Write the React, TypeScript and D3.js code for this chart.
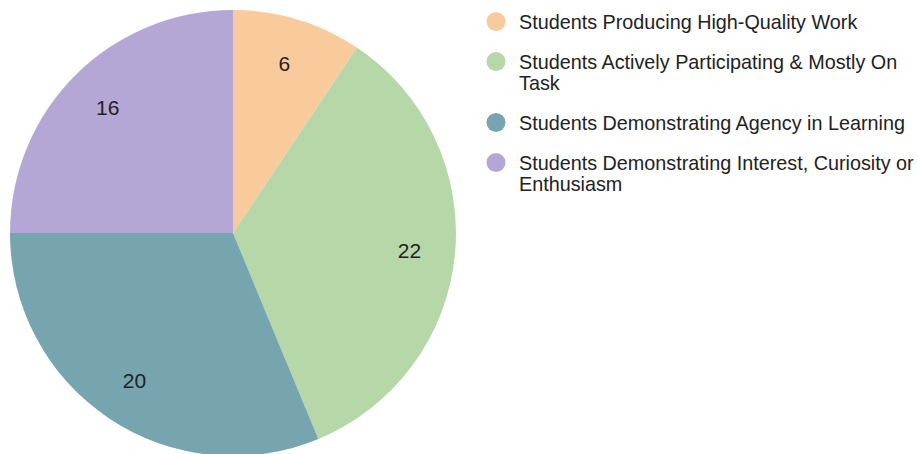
import React, { useRef, useEffect } from 'react';
import * as d3 from 'd3';

const categories = [
  'Students Producing High-Quality Work',
  'Students Actively Participating & Mostly On Task',
  'Students Demonstrating Agency in Learning',
  'Students Demonstrating Interest, Curiosity or Enthusiasm',
];
const values = [6, 22, 20, 16];
const colors = ['#f9cb9c', '#b6d7a8', '#76a5af', '#b4a7d6'];
// legend lines as wrapped in the original
const legendLines = [
  ['Students Producing High-Quality Work'],
  ['Students Actively Participating & Mostly On', 'Task'],
  ['Students Demonstrating Agency in Learning'],
  ['Students Demonstrating Interest, Curiosity or', 'Enthusiasm'],
];

const W = 917;
const H = 454;

const App: React.FC = () => {
  const svgRef = useRef<SVGSVGElement>(null);

  useEffect(() => {
    if (!svgRef.current) return;
    const svg = d3.select(svgRef.current);
    svg.selectAll('*').remove();

    const cx = 233;
    const cy = 233;
    const r = 223;

    const pie = d3.pie<number>().sort(null).value((d) => d);
    const arcs = pie(values);
    const arc = d3.arc<d3.PieArcDatum<number>>().innerRadius(0).outerRadius(r);
    const labelArc = d3.arc<d3.PieArcDatum<number>>().innerRadius(r * 0.795).outerRadius(r * 0.795);

    const g = svg.append('g').attr('transform', `translate(${cx},${cy})`);

    g.selectAll('path.slice')
      .data(arcs)
      .enter()
      .append('path')
      .attr('class', 'slice')
      .attr('d', arc)
      .attr('fill', (_, i) => colors[i]);

    g.selectAll('text.lbl')
      .data(arcs)
      .enter()
      .append('text')
      .attr('class', 'lbl')
      .attr('transform', (d) => `translate(${labelArc.centroid(d)})`)
      .attr('text-anchor', 'middle')
      .attr('dy', '0.36em')
      .attr('font-family', 'Liberation Sans, Arial, sans-serif')
      .attr('font-size', 21)
      .attr('fill', '#222')
      .text((d) => String(d.data));

    // legend
    const itemY = [21.5, 61.5, 122.5, 162.5];
    const lineH = 21.5;
    const leg = svg.append('g');
    categories.forEach((c, i) => {
      const row = leg.append('g').attr('transform', `translate(0,${itemY[i]})`);
      row.append('circle').attr('cx', 496).attr('cy', 0).attr('r', 9.5).attr('fill', colors[i]);
      const t = row
        .append('text')
        .attr('x', 519)
        .attr('y', 0)
        .attr('font-family', 'Liberation Sans, Arial, sans-serif')
        .attr('font-size', 19.8)
        .attr('fill', '#222');
      legendLines[i].forEach((ln, j) => {
        t.append('tspan').attr('x', 519).attr('y', j * lineH).attr('dy', '0.36em').text(ln);
      });
      t.append('title').text(c);
    });
  }, []);

  return (
    <svg
      ref={svgRef}
      width={W}
      height={H}
      style={{ position: 'absolute', left: 0, top: 0, background: '#fff' }}
    />
  );
};

export default App;
